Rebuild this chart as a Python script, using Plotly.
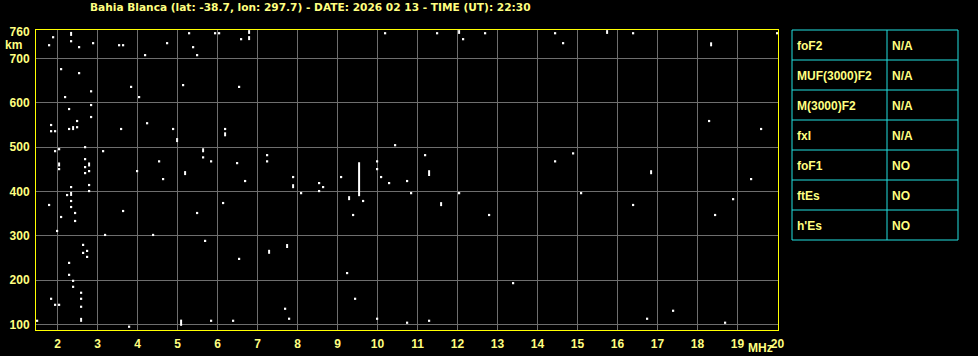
import plotly.graph_objects as go

# ---- data ----
title_text = "Bahia Blanca (lat: -38.7, lon: 297.7) - DATE: 2026 02 13 - TIME (UT): 22:30"

x_ticks = [2, 3, 4, 5, 6, 7, 8, 9, 10, 11, 12, 13, 14, 15, 16, 17, 18, 19, 20]
y_ticks = [100, 200, 300, 400, 500, 600, 700, 760]
y_grid = [100, 200, 300, 400, 500, 600, 700]

# single echo points (MHz, km)
dot_mhz = [
    1.89, 1.79, 2.34, 2.54, 2.89, 3.54, 3.64, 4.19, 4.74, 5.29, 5.39, 5.49, 5.94, 6.04, 6.59,
    2.09, 2.54, 2.84, 2.19, 3.84, 4.04, 5.14, 6.54,
    2.84, 2.29, 2.84, 2.49, 1.84, 1.84, 1.94, 2.29, 2.49, 3.59, 4.24, 4.89, 6.19,
    1.94, 2.04, 2.69, 3.14, 2.04, 2.69, 2.69, 2.79, 2.69, 3.99, 4.54, 4.64, 5.64, 5.84, 6.49, 7.24, 7.24,
    2.34, 2.79, 2.79, 2.24, 1.79, 2.34, 2.34, 2.44, 2.09, 2.44, 1.99, 3.64, 3.19, 4.39, 5.49, 6.14, 6.69, 5.69, 6.54,
    2.64, 2.74, 2.64, 2.74, 2.29, 2.29, 2.39, 2.39, 2.59, 1.84, 2.59, 1.94, 2.04, 2.59, 1.49, 3.79, 5.84, 6.39,
    10.19, 11.49, 12.14, 12.69, 10.44, 11.19, 9.99, 9.99, 7.89, 9.09, 10.09,
    8.54, 8.64, 8.54, 8.09, 9.64, 9.39, 10.29, 10.74, 10.84, 12.04, 12.79, 9.24, 13.39, 9.44, 7.69, 7.79, 9.99, 10.74, 11.29,
    14.44, 14.64, 16.39, 19.99, 18.29, 19.59, 14.89, 14.44, 19.34,
    15.09, 16.39, 18.89, 18.44, 17.39, 16.74, 18.69,
]
dot_km = [
    748, 730, 739, 725.6, 734.6, 730, 730, 707.6, 734.6, 757, 725.6, 707.6, 757, 757, 743.6,
    676, 667, 626, 613, 636, 613, 640, 636,
    595, 586, 568, 559, 550, 536, 536, 541, 545, 541, 554, 541, 541,
    491, 495.5, 500, 491, 450.5, 473, 455, 446, 441.5, 446, 468, 428, 477, 468, 464, 482, 468,
    410, 414.6, 401, 392, 369.6, 378.6, 365, 351.5, 342.5, 333.5, 311, 356, 302, 302, 351.5, 374, 423.6, 288.6, 248,
    279.6, 266, 261.5, 252.5, 239, 212, 198.5, 185, 171.6, 158, 158, 144.4, 144.4, 140, 108.4, 95, 108.4, 108.4,
    757, 757, 743.6, 757, 504.5, 482, 468, 450.5, 432.6, 432.6, 432.6,
    419, 410, 401, 396.3, 378.6, 347, 419, 423.6, 396.3, 396.3, 347, 216, 193.3, 158, 135.5, 113, 113, 104, 108.4,
    757, 734.6, 757, 757, 559, 541, 486, 468, 428,
    396.3, 369.6, 382.7, 347, 131, 113, 104,
]

# short vertical echo traces (MHz, low km, high km)
seg_mhz = [2.34, 6.79, 6.79, 2.39, 6.19, 4.99, 2.04, 2.79, 5.64, 5.19, 2.34, 7.29, 2.59, 5.09,
           12.04, 11.29, 7.89, 9.29, 11.59, 7.74, 15.74, 18.34, 16.84, 9.54]
seg_lo_km = [751, 755.5, 741.5, 538.5, 524.5, 511.5, 456.5, 456.5, 488.5, 437, 390, 259.5, 106, 97,
             755.5, 435, 407.5, 380.5, 367, 272.5, 755.5, 727.5, 439, 389.5]
seg_hi_km = [760, 764, 750.5, 547.5, 533.5, 520.5, 465.5, 465.5, 497.5, 446, 399, 268.5, 115, 111,
             764, 448, 416.5, 389.5, 376, 281.5, 764, 736.5, 448, 466]

# parameter table
param_names = ["foF2", "MUF(3000)F2", "M(3000)F2", "fxI", "foF1", "ftEs", "h'Es"]
param_values = ["N/A", "N/A", "N/A", "N/A", "NO", "NO", "NO"]

# ---- style ----
W, H = 978, 356
ML, MR, MT, MB = 36, 200, 30, 26
PW, PH = W - ML - MR, H - MT - MB
YEL = "#ffff00"
TXT = "#ffff80"
GRID = "#6e6e6e"
CYAN = "#22e0e0"
FONT = "Liberation Sans"
TFONT = "DejaVu Sans"


def px(xp):
    return (xp - ML) / PW


def py(yp):
    return (H - MB - yp) / PH


seg_x, seg_y = [], []
for f, lo, hi in zip(seg_mhz, seg_lo_km, seg_hi_km):
    seg_x += [f, f, None]
    seg_y += [lo, hi, None]

fig = go.Figure()
fig.add_trace(go.Scatter(
    x=seg_x, y=seg_y, mode="lines",
    line=dict(color="white", width=2), hoverinfo="skip", showlegend=False,
))
fig.add_trace(go.Scatter(
    x=dot_mhz, y=dot_km, mode="markers",
    marker=dict(symbol="square", size=2.2, color="white", line=dict(width=0)),
    showlegend=False,
))

fig.update_layout(
    width=W, height=H,
    margin=dict(l=ML, r=MR, t=MT, b=MB, pad=0, autoexpand=False),
    paper_bgcolor="black", plot_bgcolor="black",
    font=dict(family=FONT, color=TXT, size=12, weight="bold"),
    showlegend=False,
)
fig.update_xaxes(
    range=[1.4625, 20.0125], automargin=False,
    tickmode="array", tickvals=x_ticks, ticktext=[str(v) for v in x_ticks],
    showgrid=True, gridcolor=GRID, gridwidth=1,
    zeroline=False, showline=True, linecolor=YEL, linewidth=1, mirror=True,
    ticks="", ticklabelstandoff=3,
    tickfont=dict(family=FONT, color=TXT, size=12, weight="bold"),
)
fig.update_yaxes(
    range=[87.6, 764.3], automargin=False,
    tickmode="array", tickvals=y_ticks, ticktext=[str(v) for v in y_ticks],
    showgrid=False,
    minor=dict(tickmode="array", tickvals=y_grid, showgrid=True, gridcolor=GRID, gridwidth=1, ticks=""),
    zeroline=False, showline=True, linecolor=YEL, linewidth=1, mirror=True,
    ticks="", ticklabelstandoff=3,
    tickfont=dict(family=FONT, color=TXT, size=12, weight="bold"),
)

ann = []
ann.append(dict(text=title_text, x=px(88), y=py(7), xref="paper", yref="paper",
                xanchor="left", yanchor="middle", showarrow=False,
                font=dict(family=TFONT, size=10.6, color=TXT, weight="bold")))
ann.append(dict(text="km", x=px(13), y=py(45), xref="paper", yref="paper",
                xanchor="center", yanchor="middle", showarrow=False,
                font=dict(family=FONT, size=12, color=TXT, weight="bold")))
ann.append(dict(text="MHz", x=px(760), y=py(348), xref="paper", yref="paper",
                xanchor="center", yanchor="middle", showarrow=False,
                font=dict(family=FONT, size=12, color=TXT, weight="bold")))

# table
tx0, tx1, tcol = 792, 958, 887
ty0, rowh = 30, 30
shapes = []
nrows = len(param_names)
shapes.append(dict(type="rect", xref="paper", yref="paper",
                   x0=px(tx0), x1=px(tx1), y0=py(ty0), y1=py(ty0 + rowh * nrows),
                   line=dict(color=CYAN, width=1)))
shapes.append(dict(type="line", xref="paper", yref="paper",
                   x0=px(tcol), x1=px(tcol), y0=py(ty0), y1=py(ty0 + rowh * nrows),
                   line=dict(color=CYAN, width=1)))
for i in range(1, nrows):
    shapes.append(dict(type="line", xref="paper", yref="paper",
                       x0=px(tx0), x1=px(tx1), y0=py(ty0 + rowh * i), y1=py(ty0 + rowh * i),
                       line=dict(color=CYAN, width=1)))
for i, (nm, val) in enumerate(zip(param_names, param_values)):
    yc = ty0 + rowh * i + 16
    ann.append(dict(text=nm, x=px(tx0 + 3), y=py(yc), xref="paper", yref="paper",
                    xanchor="left", yanchor="middle", showarrow=False,
                    font=dict(family=FONT, size=12, color=TXT, weight="bold")))
    ann.append(dict(text=val, x=px(tcol + 3), y=py(yc), xref="paper", yref="paper",
                    xanchor="left", yanchor="middle", showarrow=False,
                    font=dict(family=FONT, size=12, color=TXT, weight="bold")))

fig.update_layout(annotations=ann, shapes=shapes)
fig.write_html("out.html")
